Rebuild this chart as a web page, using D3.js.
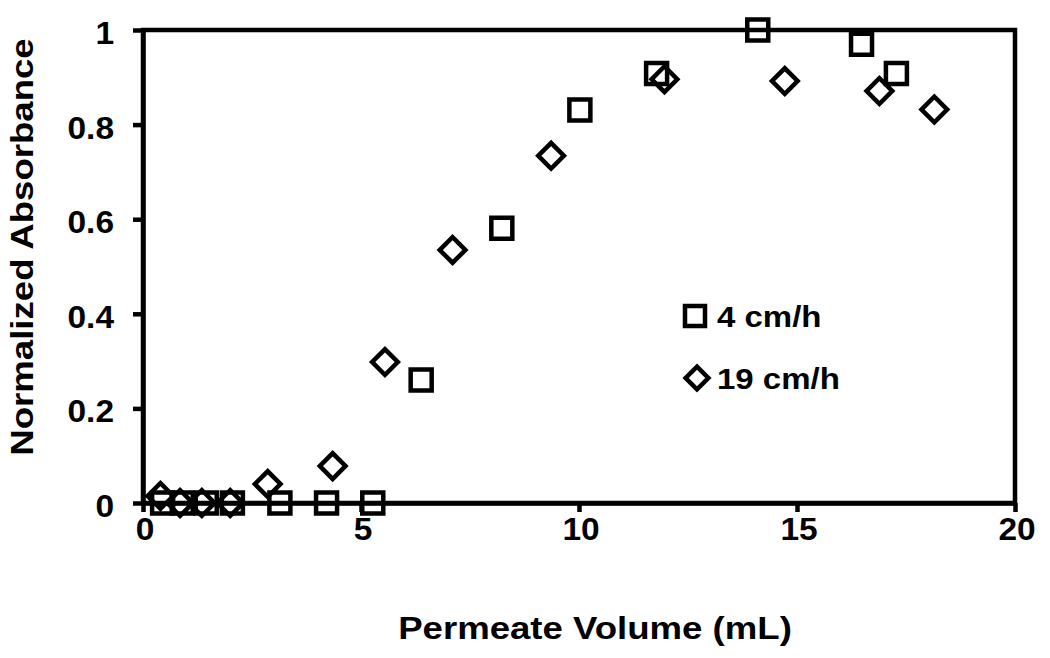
<!DOCTYPE html>
<html>
<head>
<meta charset="utf-8">
<script src="https://cdn.jsdelivr.net/npm/d3@7"></script>
<style>
  body { margin: 0; background: #fff; }
  text { font-family: "Liberation Sans", Arial, sans-serif; font-weight: bold; fill: #000; }
</style>
</head>
<body>
<svg width="1050" height="658"></svg>
<script>
// data
var slowVolume = [0.45, 0.9, 1.45, 2.05, 3.14, 4.21, 5.27, 6.38, 8.23, 10.02, 11.78, 14.1, 16.48, 17.28];
var slowAbs    = [0, 0, 0, 0, 0, 0, 0, 0.26, 0.581, 0.831, 0.908, 1.0, 0.97, 0.908];
var fastVolume = [0.4, 0.85, 1.35, 2.0, 2.86, 4.35, 5.55, 7.1, 9.36, 11.96, 14.72, 16.89, 18.15];
var fastAbs    = [0.015, 0, 0, 0, 0.04, 0.078, 0.298, 0.535, 0.734, 0.896, 0.892, 0.871, 0.832];
var xTicks = [0, 5, 10, 15, 20];
var yTicks = [0, 0.2, 0.4, 0.6, 0.8, 1];
var seriesNames = ["4 cm/h", "19 cm/h"];

var svg = d3.select("svg");
var plotLeft = 143, plotTop = 30, plotW = 872, plotH = 473;
var stretch = 1.2;     // the title lettering is wider than plain Arial
var tickStretch = 1.08;

var x = d3.scaleLinear().domain([0, 20]).range([plotLeft, plotLeft + plotW]);
var y = d3.scaleLinear().domain([0, 1]).range([plotTop + plotH, plotTop]);

var sqPath = d3.symbol().type(d3.symbolSquare).size(441)();
var diaPath = d3.symbol().type(d3.symbolSquare).size(330)();

// frame
svg.append("rect")
    .attr("x", plotLeft).attr("y", plotTop)
    .attr("width", plotW).attr("height", plotH)
    .attr("fill", "none").attr("stroke", "#000").attr("stroke-width", 4.5);

// axes (ticks only, labels drawn by hand so they can be stretched)
svg.append("g")
    .attr("transform", "translate(" + plotLeft + ",0)")
    .call(d3.axisLeft(y).tickValues(yTicks).tickSize(10).tickSizeOuter(0).tickFormat(""));
svg.append("g")
    .attr("transform", "translate(0," + (plotTop + plotH) + ")")
    .call(d3.axisBottom(x).tickValues(xTicks).tickSize(9).tickSizeOuter(0).tickFormat(""));
svg.selectAll(".domain, .tick line")
    .attr("stroke", "#000").attr("stroke-width", 4.5);

svg.append("g").selectAll("text")
    .data(yTicks)
    .enter().append("text")
    .attr("text-anchor", "end")
    .attr("font-size", 31)
    .attr("transform", function(d) { return "translate(114," + (y(d) + 14) + ") scale(" + tickStretch + ",1)"; })
    .text(function(d) { return (d === 0 || d === 1) ? d : d3.format(".1f")(d); });

svg.append("g").selectAll("text")
    .data(xTicks)
    .enter().append("text")
    .attr("text-anchor", "middle")
    .attr("font-size", 31)
    .attr("transform", function(d) { return "translate(" + (x(d) + 2) + ",540) scale(" + tickStretch + ",1)"; })
    .text(function(d) { return d; });

// axis titles
svg.append("text")
    .attr("text-anchor", "middle")
    .attr("font-size", 30.5)
    .attr("transform", "translate(595,639) scale(" + stretch + ",1)")
    .text("Permeate Volume (mL)");
svg.append("text")
    .attr("text-anchor", "middle")
    .attr("font-size", 30.5)
    .attr("transform", "translate(33,247) rotate(-90) scale(" + stretch + ",1)")
    .text("Normalized Absorbance");

// markers
var slow = slowVolume.map(function(v, i) { return { x: v, y: slowAbs[i] }; });
var fast = fastVolume.map(function(v, i) { return { x: v, y: fastAbs[i] }; });

svg.append("g").selectAll("path")
    .data(slow)
    .enter().append("path")
    .attr("d", sqPath)
    .attr("transform", function(d) { return "translate(" + x(d.x) + "," + y(d.y) + ")"; })
    .attr("fill", "none").attr("stroke", "#000").attr("stroke-width", 4.5);

svg.append("g").selectAll("path")
    .data(fast)
    .enter().append("path")
    .attr("d", diaPath)
    .attr("transform", function(d) { return "translate(" + x(d.x) + "," + y(d.y) + ") rotate(45)"; })
    .attr("fill", "none").attr("stroke", "#000").attr("stroke-width", 4.5);

// legend
var legend = svg.append("g");
var legendY = [316, 378];
legend.append("path")
    .attr("d", d3.symbol().type(d3.symbolSquare).size(400)())
    .attr("transform", "translate(695," + legendY[0] + ")")
    .attr("fill", "none").attr("stroke", "#000").attr("stroke-width", 4.5);
legend.append("path")
    .attr("d", d3.symbol().type(d3.symbolSquare).size(260)())
    .attr("transform", "translate(697," + legendY[1] + ") rotate(45)")
    .attr("fill", "none").attr("stroke", "#000").attr("stroke-width", 4.5);
legend.selectAll("text")
    .data(seriesNames)
    .enter().append("text")
    .attr("font-size", 30)
    .attr("transform", function(d, i) { return "translate(717," + (legendY[i] + 11) + ") scale(1.1,1)"; })
    .text(function(d) { return d; });
</script>
</body>
</html>
